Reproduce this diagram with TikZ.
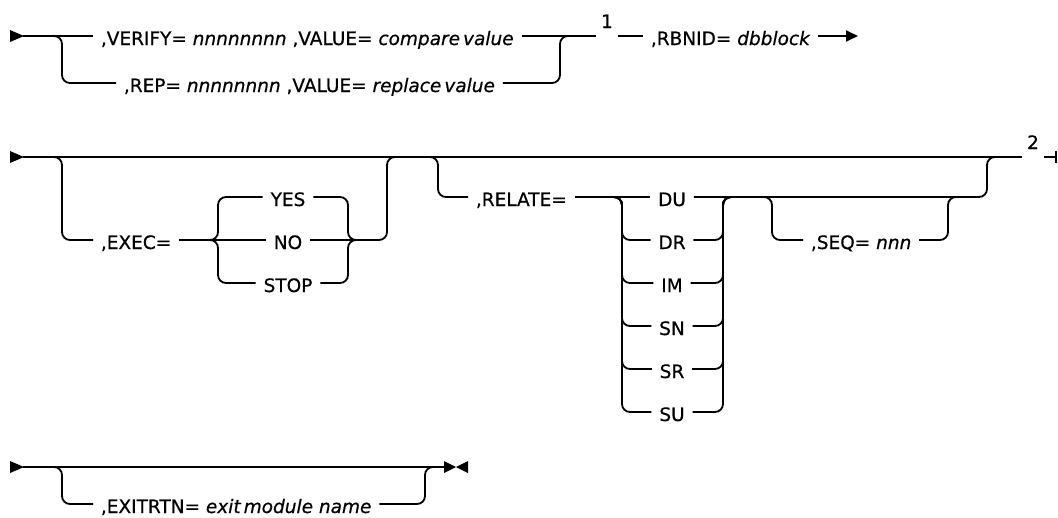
\documentclass[tikz,border=0pt]{standalone}
\usepackage{fontspec}
\setmainfont{DejaVu Sans}[FakeBold=0.6]
\usetikzlibrary{arrows.meta}
\begin{document}
\begin{tikzpicture}[x=1pt,y=-1pt,line width=1.8pt,
  rail/.style={rounded corners=8pt},
  item/.style={inner xsep=7pt,inner ysep=0pt,text height=18pt,text depth=0pt,font=\fontsize{18.5}{20}\selectfont},
  lbl/.style={item,anchor=west},
  fnote/.style={inner xsep=4pt,inner ysep=0pt,text height=18pt,text depth=0pt,font=\fontsize{18.5}{20}\selectfont}]
\useasboundingbox (0,0) rectangle (1058,517);
\foreach \y/\n in {36/s1,157/s2,467/s3}{
  \fill (10,{\y-6}) -- (24,\y) -- (10,{\y+6}) -- cycle;
  \coordinate (\n) at (23,\y);
}
% first line
\node[lbl] (verify) at (93,36) {,VERIFY= \textit{nnnnnnnn} ,VALUE= \textit{compare\,value}};
\node[lbl] (rep) at (116,83) {,REP= \textit{nnnnnnnn} ,VALUE= \textit{replace\,value}};
\node[fnote] (n1) at (607,36) {\raisebox{17pt}{1}};
\node[lbl] (rbnid) at (643,36) {,RBNID= \textit{dbblock}};
\coordinate (e1) at (858,36);
\draw (s1) -- (verify.west);
\draw[rail] (40,36) -- (62,36) -- (62,83) -- (rep.west);
\draw (verify.east) -- (n1.west);
\draw[rail] (rep.east) -- (560,83) -- (560,36) -- (575,36);
\draw (n1.east) -- (rbnid.west);
\draw[-{Triangle[length=12pt,width=11pt]}] (rbnid.east) -- (e1);
% second line
\node[fnote] (n2) at (1033,157) {\raisebox{17pt}{2}};
\coordinate (e2) at (1057,157);
\draw (s2) -- (n2.west);
\draw[-{Bar[width=12pt]}] (n2.east) -- (e2);
\node[lbl] (exec) at (93,240) {,EXEC=};
\node[item] (yes) at (288,197) {YES};
\node[item] (no) at (288,240) {NO};
\node[item] (stop) at (288,283) {STOP};
\draw[rail] (40,157) -- (62,157) -- (62,240) -- (exec.west);
\draw (exec.east) -- (no.west);
\draw[rail] (no.east) -- (387,240) -- (387,157) -- (400,157);
\draw[rail] (205,240) -- (218,240) -- (218,197) -- (yes.west);
\draw[rail] (205,240) -- (218,240) -- (218,283) -- (stop.west);
\draw[rail] (yes.east) -- (348,197) -- (348,240) -- (360,240);
\draw[rail] (stop.east) -- (348,283) -- (348,240) -- (360,240);
\node[lbl] (relate) at (468,197) {,RELATE=};
\foreach \k/\t in {0/DU,1/DR,2/IM,3/SN,4/SR,5/SU}
  \node[item] (\t) at (672,{197+43*\k}) {\t};
\coordinate (lc) at (622,197);
\coordinate (rc) at (723,197);
\draw[rail] (425,157) -- (438,157) -- (438,197) -- (relate.west);
\draw (relate.east) -- (DU.west);
\foreach \t in {DR,IM,SN,SR,SU}{
  \draw[rail] (610,197) -- (lc) -- (lc |- \t.west) -- (\t.west);
  \draw[rail] (\t.east) -- (rc |- \t.east) -- (rc) -- (735,197);
}
\draw[rail] (DU.east) -- (987,197) -- (987,157) -- (1000,157);
\node[lbl] (seq) at (803,240) {,SEQ= \textit{nnn}};
\draw[rail] (760,197) -- (772,197) -- (772,240) -- (seq.west);
\draw[rail] (seq.east) -- (948,240) -- (948,197) -- (960,197);
% third line
\node[lbl] (exitrtn) at (93,504) {,EXITRTN= \textit{exit\,module name}~};
\coordinate (e3) at (445,467);
\draw (s3) -- (e3);
\fill (444,461) -- (456,467) -- (444,473) -- cycle;
\fill (468,461) -- (456,467) -- (468,473) -- cycle;
\draw[rail] (40,467) -- (62,467) -- (62,504) -- (exitrtn.west);
\draw[rail] (exitrtn.east) -- (425,504) -- (425,467) -- (437,467);
\end{tikzpicture}
\end{document}
